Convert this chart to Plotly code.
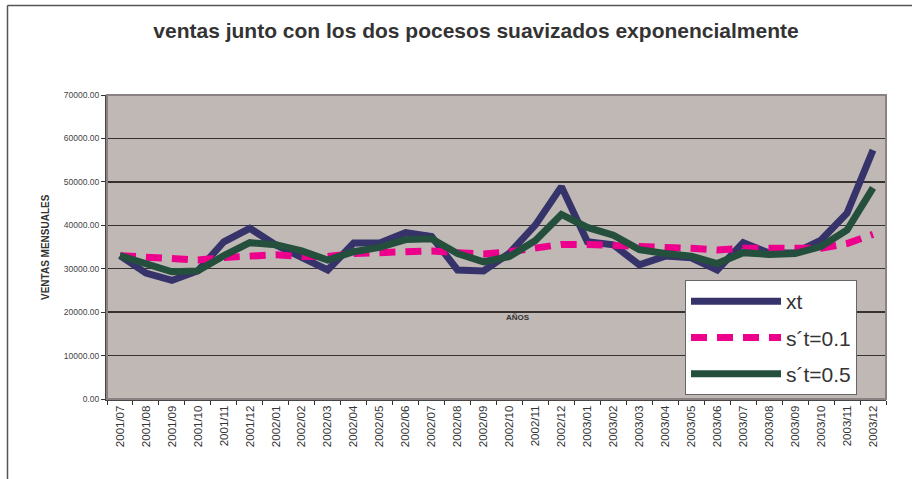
import plotly.graph_objects as go

months = ["2001/07", "2001/08", "2001/09", "2001/10", "2001/11", "2001/12",
          "2002/01", "2002/02", "2002/03", "2002/04", "2002/05", "2002/06",
          "2002/07", "2002/08", "2002/09", "2002/10", "2002/11", "2002/12",
          "2003/01", "2003/02", "2003/03", "2003/04", "2003/05", "2003/06",
          "2003/07", "2003/08", "2003/09", "2003/10", "2003/11", "2003/12"]

xt = [33000, 29000, 27300, 29500, 36200, 39300, 35500, 32500, 29700, 35900,
      35900, 38300, 37400, 29700, 29500, 33600, 40100, 48900, 36200, 35500,
      30900, 32900, 32500, 29700, 36000, 33600, 33700, 36600, 42800, 57300]

s01 = [33000, 32600, 32200, 32000, 32600, 33000, 33200, 32800, 32800, 33500,
       33700, 33900, 34100, 33700, 33400, 33900, 34700, 35600, 35600, 35500,
       35100, 34900, 34700, 34300, 34700, 34700, 34600, 34700, 35800, 37900]

s05 = [33000, 31200, 29300, 29500, 33000, 36000, 35500, 34100, 32000, 33900,
       34900, 36700, 36900, 33500, 31600, 32800, 36500, 42500, 39500, 37700,
       34400, 33500, 32900, 31200, 33700, 33300, 33500, 35100, 38900, 48600]

y_ticks = [0, 10000, 20000, 30000, 40000, 50000, 60000, 70000]

W, H = 912, 479
L, R, T, B = 107, 26, 95, 80
pw, ph = W - L - R, H - T - B

def px_x(p):
    return (p - L) / pw

def px_y(p):
    return (H - B - p) / ph

fig = go.Figure()
fig.add_trace(go.Scatter(x=months, y=xt, mode="lines", name="xt",
                         legendgroup="a",
                         line=dict(color="#35336a", width=7)))
fig.add_trace(go.Scatter(x=months, y=s01, mode="lines", name="s´t=0.1",
                         legendgroup="b",
                         line=dict(color="#ec008c", width=7, dash="16px,10px")))
fig.add_trace(go.Scatter(x=months, y=s05, mode="lines", name="s´t=0.5",
                         legendgroup="c",
                         line=dict(color="#234f3c", width=7)))

font_family = "Liberation Sans, Arial, sans-serif"

fig.update_layout(
    width=W, height=H,
    margin=dict(l=L, r=R, t=T, b=B, pad=0),
    paper_bgcolor="white",
    plot_bgcolor="#c0b8b5",
    font=dict(family=font_family, color="#333333"),
    title=dict(text="<b>ventas junto con los dos pocesos suavizados exponencialmente</b>",
               x=476 / W, xanchor="center", y=1 - 31 / H, yanchor="middle",
               font=dict(size=21, color="#333333", family=font_family)),
    showlegend=True,
    legend=dict(x=px_x(685), y=px_y(280), xanchor="left", yanchor="top",
                bgcolor="white", bordercolor="#666666", borderwidth=1,
                font=dict(size=21, color="#333333", family=font_family),
                itemwidth=90, tracegroupgap=6, traceorder="grouped"),
    xaxis=dict(type="category", range=[-0.5, len(months) - 0.5],
               tickson="boundaries", ticks="outside", ticklen=4,
               tickcolor="#333333", tickangle=-90,
               tickfont=dict(size=11.5, color="#333333"),
               showgrid=False, showline=True, linecolor="#4a4444",
               linewidth=2, zeroline=False, fixedrange=True),
    yaxis=dict(range=[0, 70000], tickvals=y_ticks, tickformat=".2f",
               ticks="outside", ticklen=4, tickcolor="#333333",
               tickfont=dict(size=8.5, color="#444444"),
               showgrid=True, gridcolor="#353131", gridwidth=1.4,
               showline=True, linecolor="#4a4444", linewidth=2,
               zeroline=False, fixedrange=True),
    shapes=[
        dict(type="rect", xref="paper", yref="paper", x0=0, x1=1, y0=0, y1=1,
             line=dict(color="#8a8282", width=2), layer="above"),
        dict(type="line", xref="paper", yref="paper",
             x0=px_x(7.5), x1=px_x(W + 5), y0=px_y(5.5), y1=px_y(5.5),
             line=dict(color="#555555", width=1.5)),
        dict(type="line", xref="paper", yref="paper",
             x0=px_x(7.5), x1=px_x(7.5), y0=px_y(5.5), y1=px_y(H + 5),
             line=dict(color="#555555", width=1.5)),
    ],
    annotations=[
        dict(text="<b>VENTAS MENSUALES</b>", textangle=-90, xref="paper",
             yref="paper", x=px_x(45), y=px_y(247), showarrow=False,
             xanchor="center", yanchor="middle",
             font=dict(size=10, color="#333333")),
        dict(text="<b>AÑOS</b>", xref="paper", yref="paper",
             x=px_x(518), y=px_y(317), showarrow=False,
             xanchor="center", yanchor="middle",
             font=dict(size=8, color="#333333")),
    ],
)

fig.write_html("out.html",
               config={"displayModeBar": False, "staticPlot": True},
               post_script="document.body.style.margin='0';document.body.style.overflow='hidden';")
